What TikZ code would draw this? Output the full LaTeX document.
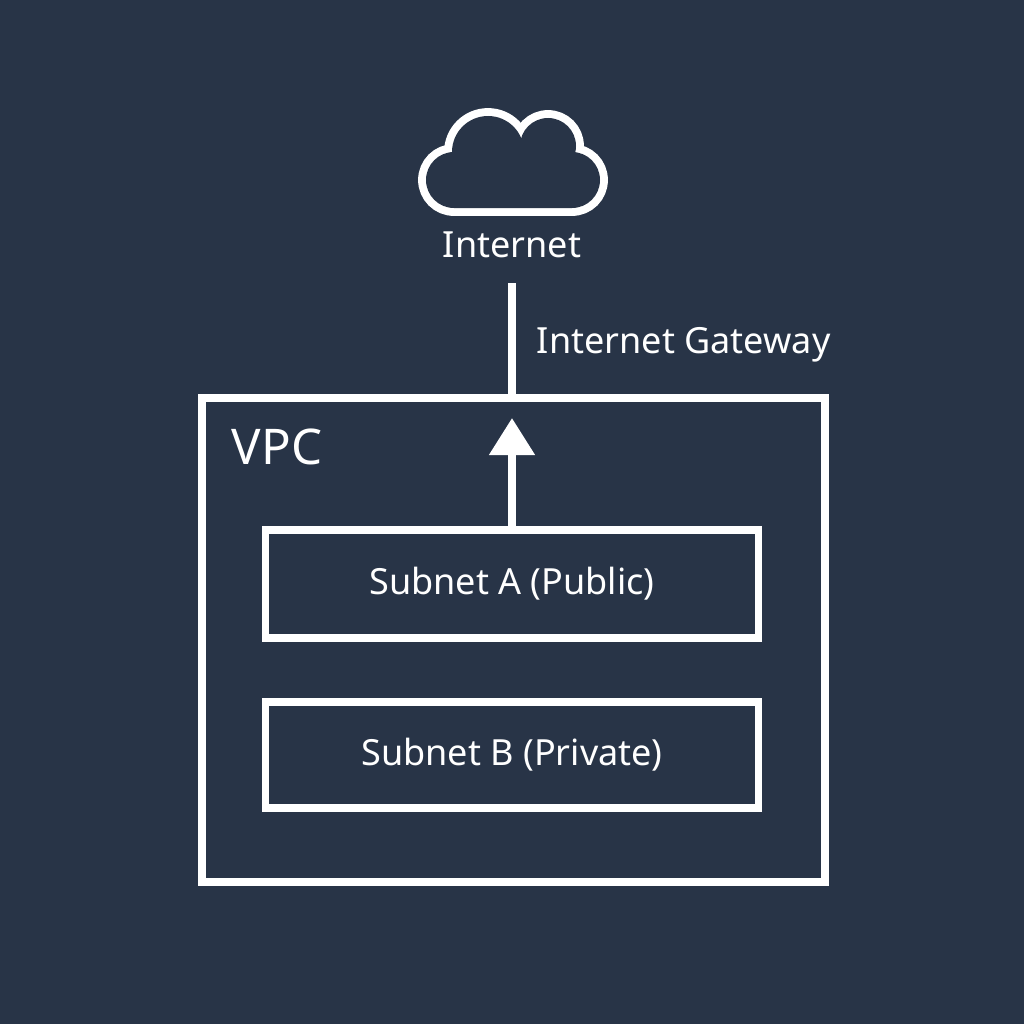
\documentclass[tikz,border=0pt]{standalone}
\usepackage{fontspec}
\setmainfont{Noto Sans}
\usetikzlibrary{arrows.meta}
\definecolor{bgnavy}{HTML}{283447}

\begin{document}
\begin{tikzpicture}[x=0.02cm, y=-0.02cm, line width=4.5pt,
  box/.style={draw=white, rectangle, line width=4.5pt},
  cloudline/.style={draw=white, line width=9pt},
  cloudfill/.style={fill=bgnavy, draw=none},
  lbl/.style={text=white, font=\fontsize{20.5}{23}\selectfont, inner sep=0pt}]
  \fill[bgnavy] (0,0) rectangle (1024,1024);
  \useasboundingbox (0,0) rectangle (1024,1024);

  % cloud: thick outline, then fill over the inner half
  \foreach \sty in {cloudline, cloudfill} {
    \path[\sty] (426,152) [rounded corners=28*0.02cm] rectangle (600,208);
    \path[\sty] (488,152) circle (36);
    \path[\sty] (548,146) circle (28);
  }
  \node (cloud) at (512,212) {};
  \node[lbl] (inet) at (512,245) {Internet};

  \draw[box] (202,398) rectangle (825,882);
  \coordinate (vpctop) at (512,398);
  \node[lbl, font=\fontsize{28}{30}\selectfont, anchor=west] (vpc) at (228,447) {VPC};

  \node[box, minimum width=493*0.02cm, minimum height=108*0.02cm] (suba) at (512,584) {};
  \node[lbl] at (suba) {Subnet A (Public)};
  \node[box, minimum width=493*0.02cm, minimum height=106*0.02cm] (subb) at (512,755) {};
  \node[lbl] at (subb) {Subnet B (Private)};

  \node[lbl, anchor=west] (igw) at (533,345) {Internet Gateway};

  \draw[white] (512,283) -- (vpctop);
  \coordinate (tip) at (512,418);
  \draw[white, -{Triangle[length=37*0.02cm, width=44*0.02cm]}] (suba.north) -- (tip);
\end{tikzpicture}
\end{document}
